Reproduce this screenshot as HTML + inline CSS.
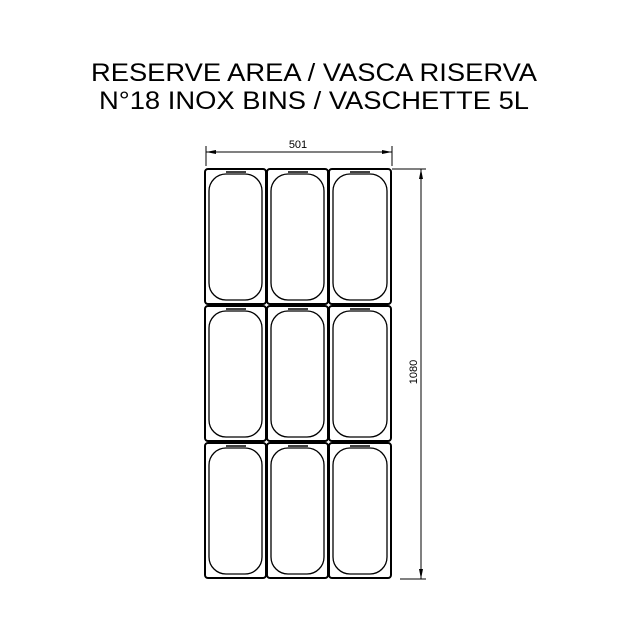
<!DOCTYPE html>
<html><head><meta charset="utf-8"><style>html,body{margin:0;padding:0;background:#fff}</style></head>
<body>
<svg width="624" height="624" viewBox="0 0 624 624" xmlns="http://www.w3.org/2000/svg" font-family="Liberation Sans, Arial, sans-serif">
<rect width="624" height="624" fill="#fff"/>
<text x="314" y="81" font-size="25" text-anchor="middle" textLength="446" lengthAdjust="spacingAndGlyphs">RESERVE AREA / VASCA RISERVA</text>
<text x="314" y="109" font-size="25" text-anchor="middle" textLength="430" lengthAdjust="spacingAndGlyphs">N°18 INOX BINS / VASCHETTE 5L</text>
<!-- top dimension -->
<g stroke="#000" stroke-width="1" fill="none">
<line x1="206" y1="146" x2="206" y2="166"/>
<line x1="392" y1="146" x2="392" y2="166"/>
<line x1="206" y1="152" x2="392" y2="152"/>
<line x1="392" y1="169" x2="426" y2="169"/>
<line x1="400" y1="579" x2="426" y2="579"/>
<line x1="421" y1="169" x2="421" y2="579"/>
</g>
<polygon points="206,152 216,150 216,154" fill="#000"/>
<polygon points="392,152 382,150 382,154" fill="#000"/>
<polygon points="421,169 419,179 423,179" fill="#000"/>
<polygon points="421,579 419,569 423,569" fill="#000"/>
<text x="298" y="148" font-size="11" text-anchor="middle">501</text>
<text transform="translate(417,372) rotate(-90)" font-size="11" text-anchor="middle">1080</text>
<g id="bins" fill="none" stroke="#000">
<!-- generated cells -->
</g>
<g fill="none" stroke="#000">
<g stroke-width="2">
<rect x="205" y="169" width="61" height="135" rx="3"/><rect x="267" y="169" width="61" height="135" rx="3"/><rect x="329" y="169" width="62" height="135" rx="3"/>
<rect x="205" y="306" width="61" height="135" rx="3"/><rect x="267" y="306" width="61" height="135" rx="3"/><rect x="329" y="306" width="62" height="135" rx="3"/>
<rect x="205" y="443" width="61" height="135" rx="3"/><rect x="267" y="443" width="61" height="135" rx="3"/><rect x="329" y="443" width="62" height="135" rx="3"/>
</g>
<g stroke-width="1.3">
<rect x="209" y="174" width="53" height="126" rx="17"/><rect x="271" y="174" width="53" height="126" rx="17"/><rect x="333" y="174" width="54" height="126" rx="17"/>
<rect x="209" y="311" width="53" height="126" rx="17"/><rect x="271" y="311" width="53" height="126" rx="17"/><rect x="333" y="311" width="54" height="126" rx="17"/>
<rect x="209" y="448" width="53" height="126" rx="17"/><rect x="271" y="448" width="53" height="126" rx="17"/><rect x="333" y="448" width="54" height="126" rx="17"/>
</g>
<g stroke-width="1.5">
<line x1="226" y1="172" x2="246" y2="172"/><line x1="288" y1="172" x2="308" y2="172"/><line x1="350" y1="172" x2="370" y2="172"/>
<line x1="226" y1="309" x2="246" y2="309"/><line x1="288" y1="309" x2="308" y2="309"/><line x1="350" y1="309" x2="370" y2="309"/>
<line x1="226" y1="446" x2="246" y2="446"/><line x1="288" y1="446" x2="308" y2="446"/><line x1="350" y1="446" x2="370" y2="446"/>
</g>
</g>
</svg>
</body></html>
